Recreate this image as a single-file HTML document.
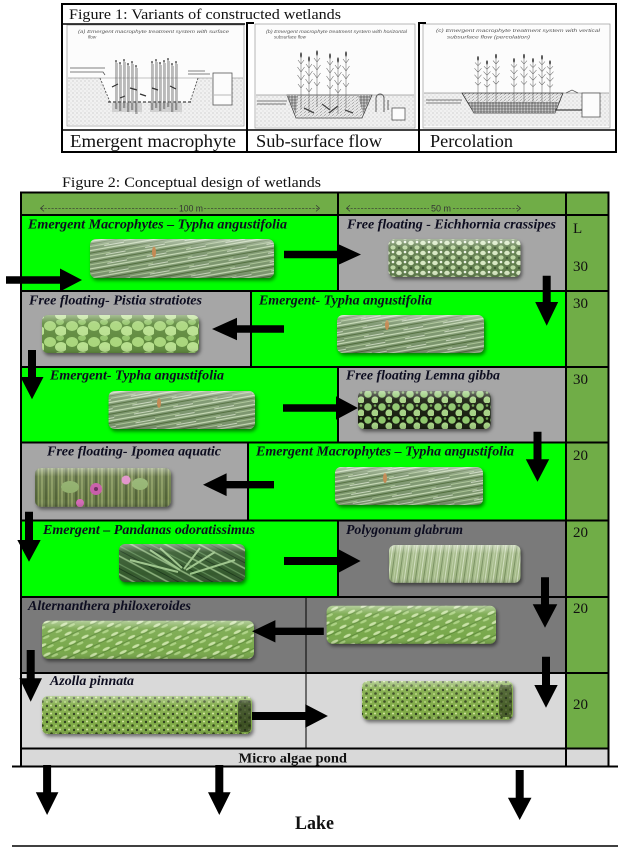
<!DOCTYPE html>
<html><head><meta charset="utf-8"><style>
html,body{margin:0;padding:0;background:#fff;}
svg{display:block;}
.lb{font-family:"Liberation Serif",serif;font-weight:bold;font-style:italic;font-size:14px;fill:#0d0d20;}
.num{font-family:"Liberation Serif",serif;font-size:15px;fill:#111;}
.cap{font-family:"Liberation Sans",sans-serif;font-style:italic;font-size:4.6px;fill:#555;}
</style></head><body>
<svg width="642" height="851" viewBox="0 0 642 851" xmlns="http://www.w3.org/2000/svg">
<defs>
<pattern id="dots" width="4" height="4" patternUnits="userSpaceOnUse"><rect width="4" height="4" fill="#f1f1f1"/><circle cx="1" cy="1" r="0.45" fill="#999"/><circle cx="3" cy="3" r="0.4" fill="#aaa"/></pattern>
<pattern id="hatch" width="2" height="4" patternUnits="userSpaceOnUse"><path d="M1 0V4" stroke="#777" stroke-width="0.5"/></pattern>
<pattern id="grav" width="3" height="3" patternUnits="userSpaceOnUse"><rect width="3" height="3" fill="#a0a0a0"/><circle cx="1" cy="1" r="0.6" fill="#444"/><circle cx="2.4" cy="2.3" r="0.5" fill="#e5e5e5"/></pattern>
<pattern id="gravL" width="4" height="3" patternUnits="userSpaceOnUse"><rect width="4" height="3" fill="#eaeaea"/><path d="M0 1.5l2 -1" stroke="#666" stroke-width="0.5"/><circle cx="3" cy="2.2" r="0.4" fill="#777"/></pattern>

<pattern id="pTy" width="40" height="9" patternUnits="userSpaceOnUse" patternTransform="rotate(-10)">
<rect width="40" height="9" fill="#7a946c"/><path d="M0 1.5H40" stroke="#c5d9b3" stroke-width="1.3"/><path d="M0 4H40" stroke="#4f6c3a" stroke-width="1"/><path d="M0 6.5H25" stroke="#a9c394" stroke-width="1"/><path d="M20 8H40" stroke="#dfe9d3" stroke-width="0.8"/></pattern>
<pattern id="pEi" width="12" height="10" patternUnits="userSpaceOnUse"><rect width="12" height="10" fill="#5f7d4b"/><ellipse cx="3" cy="3" rx="2.8" ry="2.2" fill="#d7e8c2"/><ellipse cx="9" cy="7.5" rx="2.6" ry="2.1" fill="#bcd6a2"/><circle cx="9" cy="2" r="1.3" fill="#f0f6e8"/><circle cx="3" cy="8" r="1.2" fill="#3d5630"/></pattern>
<pattern id="pPi" width="22" height="16" patternUnits="userSpaceOnUse"><rect width="22" height="16" fill="#5f8a3e"/><ellipse cx="6" cy="6" rx="6" ry="5" fill="#a9d67c"/><ellipse cx="17" cy="11" rx="6" ry="5" fill="#b8e08e"/><ellipse cx="16" cy="2" rx="4" ry="3" fill="#94c56a"/></pattern>
<pattern id="pLe" width="14" height="13" patternUnits="userSpaceOnUse"><rect width="14" height="13" fill="#141c10"/><circle cx="4" cy="4" r="3.8" fill="#8ec66c"/><circle cx="11" cy="10" r="3.6" fill="#a5d283"/><circle cx="11" cy="2.5" r="1.3" fill="#6fa450"/></pattern>
<pattern id="pIp" width="10" height="14" patternUnits="userSpaceOnUse"><rect width="10" height="14" fill="#6b7c48"/><path d="M2 0V14" stroke="#a8b878"/><path d="M6 0V14" stroke="#3b4b26"/><path d="M8.5 0V14" stroke="#8a9a5a"/></pattern>
<pattern id="pPa" width="16" height="16" patternUnits="userSpaceOnUse" patternTransform="rotate(28)"><rect width="16" height="16" fill="#355a2f"/><path d="M0 3H16" stroke="#8cb27c" stroke-width="1.6"/><path d="M0 10H16" stroke="#5f8a55" stroke-width="1.2"/><path d="M0 14H16" stroke="#1f3a1c"/></pattern>
<pattern id="pPo" width="8" height="12" patternUnits="userSpaceOnUse" patternTransform="rotate(8)"><rect width="8" height="12" fill="#a3b987"/><path d="M1 0V12" stroke="#dce8cc" stroke-width="0.8"/><path d="M4 0V12" stroke="#6c8654" stroke-width="0.8"/><path d="M6.5 0V12" stroke="#c4d6ad" stroke-width="0.7"/></pattern>
<pattern id="pAl" width="14" height="10" patternUnits="userSpaceOnUse" patternTransform="rotate(-25)"><rect width="14" height="10" fill="#78a84b"/><ellipse cx="4" cy="3" rx="4" ry="1.4" fill="#c7e1a3"/><ellipse cx="11" cy="7" rx="4" ry="1.3" fill="#a9d07f"/><path d="M0 5H14" stroke="#4c7a2e" stroke-width="0.6"/></pattern>
<pattern id="pAz" width="9" height="8" patternUnits="userSpaceOnUse"><rect width="9" height="8" fill="#80ab46"/><circle cx="2" cy="2" r="1.2" fill="#2c3b1b"/><circle cx="6.5" cy="5.5" r="1.3" fill="#34461f"/><circle cx="6" cy="1.5" r="1" fill="#d3e89f"/><circle cx="2" cy="6" r="1" fill="#b5d47c"/></pattern>

<linearGradient id="gl" x1="0" y1="0" x2="0" y2="1"><stop offset="0" stop-color="#fff" stop-opacity="0.45"/><stop offset="0.22" stop-color="#fff" stop-opacity="0.08"/><stop offset="0.8" stop-color="#fff" stop-opacity="0"/><stop offset="1" stop-color="#000" stop-opacity="0.12"/></linearGradient>
<filter id="sh" x="-10%" y="-20%" width="125%" height="160%"><feDropShadow dx="1.5" dy="2.5" stdDeviation="1.8" flood-color="#000" flood-opacity="0.5"/></filter>

<g id="reed"><path d="M0 0V52 M0 7l-3-4M0 7l3-4 M0 15l-3.5-5M0 15l3.5-5 M0 23l-3.5-5M0 23l3.5-5 M0 31l-3-4M0 31l3-4" stroke="#666" stroke-width="0.55" fill="none"/><ellipse cx="0" cy="-2" rx="0.9" ry="2.8" fill="#444"/></g>
<g id="rod"><path d="M0 0V48" stroke="#555" stroke-width="0.8"/><path d="M1.3 2V48" stroke="#999" stroke-width="0.6"/><circle cx="0" cy="0" r="0.9" fill="#333"/></g>
</defs>

<rect width="642" height="851" fill="#fff"/>

<!-- ================= FIGURE 1 ================= -->
<!-- image a -->
<rect x="67" y="25" width="177" height="101" fill="#fcfcfc" stroke="#999" stroke-width="0.7"/>
<text class="cap" x="78" y="33" textLength="151" lengthAdjust="spacingAndGlyphs">(a)  Emergent macrophyte treatment system with surface</text>
<text class="cap" x="88" y="38.5">flow</text>
<rect x="68" y="78" width="175" height="47" fill="url(#dots)"/>
<polygon points="100,78 110,102 190,102 198,78" fill="#fcfcfc"/>
<path d="M68 78H100 M198 78H212 M232 78H243" stroke="#777" stroke-width="0.6"/>
<path d="M100 78L110 102 M198 78L190 102" stroke="#555" stroke-width="0.9" stroke-dasharray="2 1.5"/>
<path d="M108 102H192" stroke="#444" stroke-width="1.2" stroke-dasharray="3 2"/>
<path d="M100 78H198" stroke="#888" stroke-width="0.5"/>
<rect x="112" y="103" width="30" height="9" fill="url(#hatch)"/>
<rect x="150" y="103" width="32" height="9" fill="url(#hatch)"/>
<path d="M70 68H105 M70 72H103 l2 3" stroke="#555" stroke-width="0.8" fill="none"/>
<path d="M188 74H210 M188 71H205" stroke="#555" stroke-width="0.7"/>
<rect x="213" y="73" width="19" height="32" fill="#fcfcfc" stroke="#555" stroke-width="0.8"/>
<path d="M214 95H231" stroke="#777" stroke-width="0.6"/>
<use href="#rod" x="116" y="61"/><use href="#rod" x="120" y="63"/><use href="#rod" x="124" y="60"/><use href="#rod" x="128" y="64"/><use href="#rod" x="132" y="62"/><use href="#rod" x="136" y="66"/>
<use href="#rod" x="152" y="62"/><use href="#rod" x="156" y="60"/><use href="#rod" x="160" y="63"/><use href="#rod" x="164" y="61"/><use href="#rod" x="168" y="59"/><use href="#rod" x="172" y="64"/><use href="#rod" x="176" y="62"/>
<path d="M118 84l-6 3 M130 88l7 2 M158 90l-6 -2 M170 86l6 3 M140 94l6 2 M125 96l-5 2" stroke="#333" stroke-width="1.2"/>

<!-- image b -->
<rect x="255" y="24" width="160" height="104" fill="#fcfcfc" stroke="#999" stroke-width="0.7"/>
<text class="cap" x="266" y="33" textLength="141" lengthAdjust="spacingAndGlyphs">(b)  Emergent macrophyte treatment system with horizontal</text>
<text class="cap" x="274" y="38.7">subsurface flow</text>
<rect x="256" y="95" width="158" height="32" fill="url(#dots)"/>
<polygon points="287,95 296,118 362,118 372,95" fill="url(#gravL)" stroke="#444" stroke-width="0.8"/>
<polygon points="287,95 298,95 296,114" fill="url(#grav)"/>
<polygon points="358,95 371,95 363,114" fill="url(#grav)"/>
<path d="M256 95H287 M372 95H414" stroke="#666" stroke-width="0.6"/>
<path d="M257 101H287 M257 104H286" stroke="#555" stroke-width="0.8"/>
<path d="M376 112V98 a4 4 0 0 1 8 0V112 M388 110V100" stroke="#555" stroke-width="0.9" fill="none"/>
<rect x="392" y="108" width="13" height="12" fill="#fcfcfc" stroke="#555" stroke-width="0.8"/>
<path d="M304 108l10 5 M322 104l8 6 M338 106l-9 7 M345 110l8 3" stroke="#444" stroke-width="1.3"/>
<use href="#reed" transform="translate(301,57)"/><use href="#reed" transform="translate(309,61)"/><use href="#reed" transform="translate(317,55)"/>
<use href="#reed" transform="translate(330,58)"/><use href="#reed" transform="translate(338,62)"/><use href="#reed" transform="translate(346,56)"/>

<!-- image c -->
<rect x="423" y="24" width="187" height="104" fill="#fcfcfc" stroke="#999" stroke-width="0.7"/>
<text class="cap" x="436" y="32" textLength="164" lengthAdjust="spacingAndGlyphs">(c)  Emergent macrophyte treatment system with vertical</text>
<text class="cap" x="447" y="38.7" textLength="83" lengthAdjust="spacingAndGlyphs">subsurface flow (percolation)</text>
<rect x="424" y="93" width="185" height="33" fill="url(#dots)"/>
<polygon points="462,93 474,113 555,113 563,93" fill="url(#gravL)" stroke="#333" stroke-width="0.8"/>
<polygon points="468,102 474,113 555,113 559,102" fill="url(#grav)"/>
<path d="M424 93H462 M563 93H609" stroke="#666" stroke-width="0.6"/>
<path d="M426 100H462 M426 103H461" stroke="#555" stroke-width="0.8"/>
<path d="M566 93l6 -3 l6 3" stroke="#555" stroke-width="0.7" fill="none"/>
<rect x="582" y="93" width="18" height="24" fill="#fcfcfc" stroke="#555" stroke-width="0.8"/>
<path d="M555 110H582" stroke="#444" stroke-width="1.2"/>
<use href="#reed" transform="translate(478,60) scale(1,0.82)"/><use href="#reed" transform="translate(487,64) scale(1,0.75)"/><use href="#reed" transform="translate(496,58) scale(1,0.85)"/>
<use href="#reed" transform="translate(514,62) scale(1,0.8)"/><use href="#reed" transform="translate(524,58) scale(1,0.86)"/><use href="#reed" transform="translate(533,62) scale(1,0.8)"/><use href="#reed" transform="translate(542,59) scale(1,0.84)"/><use href="#reed" transform="translate(550,64) scale(1,0.76)"/>

<!-- figure 1 frame -->
<rect x="62" y="4" width="554" height="148" fill="none" stroke="#000" stroke-width="2"/>
<path d="M62 24H245" stroke="#000" stroke-width="1.5"/>
<path d="M247 22V152 M247 23H254 M419 22V152 M419 23H426" stroke="#000" stroke-width="2" fill="none"/>
<path d="M62 130H616" stroke="#000" stroke-width="1.5"/>
<g font-family="'Liberation Serif',serif" fill="#111">
<text x="69" y="19" font-size="15" textLength="272" lengthAdjust="spacingAndGlyphs">Figure 1: Variants of constructed wetlands</text>
<text x="70" y="147" font-size="18" textLength="166" lengthAdjust="spacingAndGlyphs">Emergent macrophyte</text>
<text x="256" y="147" font-size="18" textLength="126" lengthAdjust="spacingAndGlyphs">Sub-surface flow</text>
<text x="430" y="147" font-size="18" textLength="83" lengthAdjust="spacingAndGlyphs">Percolation</text>
</g>

<!-- ================= FIGURE 2 ================= -->
<text x="62" y="187" font-family="'Liberation Serif',serif" font-size="15" fill="#111" textLength="259" lengthAdjust="spacingAndGlyphs">Figure 2: Conceptual design of wetlands</text>

<!-- cells -->
<rect x="21" y="192.5" width="587.5" height="22.5" fill="#70ad47"/>
<rect x="21" y="215" width="317" height="76" fill="#00ff00"/>
<rect x="338" y="215" width="228" height="76" fill="#a6a6a6"/>
<rect x="21" y="291" width="230" height="76" fill="#a6a6a6"/>
<rect x="251" y="291" width="315" height="76" fill="#00ff00"/>
<rect x="21" y="367" width="317" height="75.5" fill="#00ff00"/>
<rect x="338" y="367" width="228" height="75.5" fill="#a6a6a6"/>
<rect x="21" y="442.5" width="227" height="78" fill="#a6a6a6"/>
<rect x="248" y="442.5" width="318" height="78" fill="#00ff00"/>
<rect x="21" y="520.5" width="317" height="76.5" fill="#00ff00"/>
<rect x="338" y="520.5" width="228" height="76.5" fill="#7a7a7a"/>
<rect x="21" y="597" width="545" height="76" fill="#7a7a7a"/>
<rect x="21" y="673" width="545" height="75.5" fill="#d9d9d9"/>
<rect x="566" y="215" width="42.5" height="533.5" fill="#70ad47"/>
<rect x="21" y="748.5" width="587.5" height="18" fill="#d9d9d9"/>

<!-- grid lines -->
<g stroke="#000" stroke-width="2" fill="none">
<path d="M21 192.5H608.5 M21 215H608.5 M21 291H608.5 M21 367H608.5 M21 442.5H608.5 M21 520.5H608.5 M21 597H608.5 M21 673H608.5 M21 748.5H608.5"/>
<path d="M21 191.5V766.5 M608.5 191.5V766.5 M566 192.5V766.5"/>
<path d="M338 192.5V291 M251 291V367 M338 367V442.5 M248 442.5V520.5 M338 520.5V597"/>
<path d="M12 766.5H618"/>
</g>
<path d="M306 597V748.5" stroke="#000" stroke-width="1"/>
<path d="M12 846H618" stroke="#000" stroke-width="1.5"/>

<!-- header dimensions -->
<g stroke="#333" stroke-width="0.7" fill="none">
<path d="M41 208.3H178" stroke-dasharray="2.2 1.3"/>
<path d="M204 208.3H319" stroke-dasharray="2.2 1.3"/>
<path d="M44 205.2L40.5 208.3L44 211.4 M316 205.2L319.5 208.3L316 211.4"/>
<path d="M347 208.3H429" stroke-dasharray="2.2 1.3"/>
<path d="M453 208.3H520" stroke-dasharray="2.2 1.3"/>
<path d="M350 205.2L346.5 208.3L350 211.4 M517 205.2L520.5 208.3L517 211.4"/>
</g>
<text x="179" y="211.5" font-family="'Liberation Sans',sans-serif" font-size="9" fill="#333" textLength="24" lengthAdjust="spacingAndGlyphs">100 m</text>
<text x="431" y="211.5" font-family="'Liberation Sans',sans-serif" font-size="9" fill="#333" textLength="20" lengthAdjust="spacingAndGlyphs">50 m</text>

<!-- L column -->
<text class="num" x="573" y="233">L</text>
<text class="num" x="573" y="271">30</text>
<text class="num" x="573" y="308">30</text>
<text class="num" x="573" y="384">30</text>
<text class="num" x="573" y="460">20</text>
<text class="num" x="573" y="537">20</text>
<text class="num" x="573" y="613">20</text>
<text class="num" x="573" y="709">20</text>

<!-- labels -->
<text class="lb" x="28" y="228.5" textLength="259" lengthAdjust="spacingAndGlyphs">Emergent Macrophytes – Typha angustifolia</text>
<text class="lb" x="347" y="228.5" textLength="209" lengthAdjust="spacingAndGlyphs">Free floating - Eichhornia crassipes</text>
<text class="lb" x="29" y="304.5" textLength="173" lengthAdjust="spacingAndGlyphs">Free floating- Pistia stratiotes</text>
<text class="lb" x="259" y="304.5" textLength="173" lengthAdjust="spacingAndGlyphs">Emergent- Typha angustifolia</text>
<text class="lb" x="50" y="379.5" textLength="174" lengthAdjust="spacingAndGlyphs">Emergent- Typha angustifolia</text>
<text class="lb" x="346" y="379.5" textLength="154" lengthAdjust="spacingAndGlyphs">Free floating Lemna gibba</text>
<text class="lb" x="47" y="455.5" textLength="174" lengthAdjust="spacingAndGlyphs">Free floating- Ipomea aquatic</text>
<text class="lb" x="256" y="455.5" textLength="258" lengthAdjust="spacingAndGlyphs">Emergent Macrophytes – Typha angustifolia</text>
<text class="lb" x="43" y="534" textLength="212" lengthAdjust="spacingAndGlyphs">Emergent – Pandanas odoratissimus</text>
<text class="lb" x="346" y="534" textLength="117" lengthAdjust="spacingAndGlyphs">Polygonum glabrum</text>
<text class="lb" x="28" y="610" textLength="163" lengthAdjust="spacingAndGlyphs">Alternanthera philoxeroides</text>
<text class="lb" x="50" y="685" textLength="84" lengthAdjust="spacingAndGlyphs">Azolla pinnata</text>
<text x="238.5" y="762.5" font-family="'Liberation Serif',serif" font-weight="bold" font-size="13.5" fill="#111" textLength="108.5" lengthAdjust="spacingAndGlyphs">Micro algae pond</text>
<text x="295" y="829" font-family="'Liberation Serif',serif" font-weight="bold" font-size="19" fill="#111" textLength="39" lengthAdjust="spacingAndGlyphs">Lake</text>

<!-- photos -->
<g filter="url(#sh)">
<rect x="90" y="239" width="184" height="39" rx="6" fill="url(#pTy)"/>
<rect x="388.5" y="239" width="132" height="38" rx="6" fill="url(#pEi)"/>
<rect x="42" y="315" width="157" height="38" rx="6" fill="url(#pPi)"/>
<rect x="337" y="315" width="147" height="38" rx="6" fill="url(#pTy)"/>
<rect x="108.6" y="391" width="146.4" height="38" rx="6" fill="url(#pTy)"/>
<rect x="358" y="391" width="132.6" height="38" rx="6" fill="url(#pLe)"/>
<rect x="35" y="468" width="136" height="38.7" rx="6" fill="url(#pIp)"/>
<rect x="335" y="467" width="148" height="38" rx="6" fill="url(#pTy)"/>
<rect x="119" y="544" width="126" height="38" rx="6" fill="url(#pPa)"/>
<rect x="389" y="545" width="131.5" height="37.7" rx="6" fill="url(#pPo)"/>
<rect x="42" y="620.7" width="212" height="38" rx="6" fill="url(#pAl)"/>
<rect x="326.6" y="605.7" width="169.4" height="38" rx="6" fill="url(#pAl)"/>
<rect x="42" y="696" width="210" height="38" rx="6" fill="url(#pAz)"/>
<rect x="362" y="681" width="151" height="38.7" rx="6" fill="url(#pAz)"/>
</g>
<!-- photo details -->
<ellipse cx="154" cy="252" rx="2" ry="5.5" fill="#c0834a"/>
<ellipse cx="387" cy="325" rx="2" ry="5" fill="#c0834a"/>
<ellipse cx="159" cy="403" rx="2" ry="5" fill="#c0834a"/>
<ellipse cx="385" cy="478" rx="2" ry="5" fill="#c0834a"/>
<ellipse cx="70" cy="487" rx="9" ry="6" fill="#8fae6a"/>
<ellipse cx="140" cy="484" rx="8" ry="6" fill="#93b370"/>
<circle cx="96" cy="489" r="6" fill="#c75aa8"/><circle cx="96" cy="489" r="2" fill="#6a2a5a"/>
<circle cx="80" cy="503" r="4" fill="#d66ab8"/>
<circle cx="126" cy="480" r="4.5" fill="#e090c8"/>
<path d="M150 550 L180 570 M160 548 L182 568 M215 552 L186 570 M200 548 L184 569 M130 560 L178 572 M235 560 L190 574" stroke="#9cc48a" stroke-width="2"/>
<rect x="238" y="700" width="13" height="32" rx="4" fill="#1f2a12" opacity="0.7"/>
<rect x="499" y="685" width="13" height="32" rx="4" fill="#1f2a12" opacity="0.6"/>
<!-- gloss -->
<g fill="url(#gl)">
<rect x="90" y="239" width="184" height="39" rx="6"/>
<rect x="388.5" y="239" width="132" height="38" rx="6"/>
<rect x="42" y="315" width="157" height="38" rx="6"/>
<rect x="337" y="315" width="147" height="38" rx="6"/>
<rect x="108.6" y="391" width="146.4" height="38" rx="6"/>
<rect x="358" y="391" width="132.6" height="38" rx="6"/>
<rect x="35" y="468" width="136" height="38.7" rx="6"/>
<rect x="335" y="467" width="148" height="38" rx="6"/>
<rect x="119" y="544" width="126" height="38" rx="6"/>
<rect x="389" y="545" width="131.5" height="37.7" rx="6"/>
<rect x="42" y="620.7" width="212" height="38" rx="6"/>
<rect x="326.6" y="605.7" width="169.4" height="38" rx="6"/>
<rect x="42" y="696" width="210" height="38" rx="6"/>
<rect x="362" y="681" width="151" height="38.7" rx="6"/>
</g>

<!-- arrows -->
<g fill="#000">
<polygon points="6,276.3 60,276.3 60,268.5 82,280 60,291.5 60,283.7 6,283.7"/>
<polygon points="284,250.8 338,250.8 338,244 361,254.5 338,265 338,258.2 284,258.2"/>
<polygon points="542.7,275.7 550.7,275.7 550.7,302 558.2,302 546.7,325.7 535.2,302 542.7,302"/>
<polygon points="284,325.3 237,325.3 237,317.8 212,329 237,340.2 237,332.7 284,332.7"/>
<polygon points="28,350 36,350 36,377 43.5,377 32,399.3 20.5,377 28,377"/>
<polygon points="283,404.3 336,404.3 336,396.3 358,408 336,419.7 336,411.7 283,411.7"/>
<polygon points="533.5,431.7 541.5,431.7 541.5,459.3 549.2,459.3 537.5,481.7 525.8,459.3 533.5,459.3"/>
<polygon points="274,481 226.6,481 226.6,473.3 203,484.7 226.6,496.1 226.6,488.4 274,488.4"/>
<polygon points="25,511.7 33,511.7 33,540 40.7,540 29,561.7 17.3,540 25,540"/>
<polygon points="284,557 338,557 338,549 360.6,561 338,573 338,565 284,565"/>
<polygon points="541,577.3 549,577.3 549,604.3 557.3,604.3 545,627.7 532.7,604.3 541,604.3"/>
<polygon points="323.8,627.6 275.4,627.6 275.4,620.1 252,631.3 275.4,642.5 275.4,635 323.8,635"/>
<polygon points="542,656.7 550,656.7 550,685 557.7,685 546,707.7 534.3,685 542,685"/>
<polygon points="26.7,650 34.7,650 34.7,678.3 42,678.3 30.7,701.7 19.4,678.3 26.7,678.3"/>
<polygon points="252,712 305.3,712 305.3,704.3 327.9,716 305.3,727.7 305.3,720 252,720"/>
<polygon points="43.1,765 51.1,765 51.1,792.3 58.4,792.3 47.1,815 35.8,792.3 43.1,792.3"/>
<polygon points="215.3,765 223.3,765 223.3,792.3 230.6,792.3 219.3,815 208,792.3 215.3,792.3"/>
<polygon points="515.7,770 523.7,770 523.7,797.7 531.5,797.7 519.7,820 507.9,797.7 515.7,797.7"/>
</g>
</svg>
</body></html>
